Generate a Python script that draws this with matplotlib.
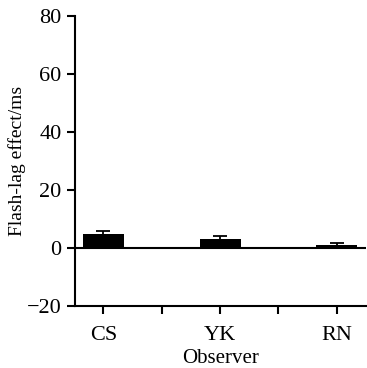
import matplotlib
matplotlib.use("Agg")
import matplotlib.pyplot as plt
from matplotlib.ticker import MultipleLocator

# data
observers = ["CS", "YK", "RN"]
effect = [4.9, 3.0, 1.0]
err = [1.0, 1.0, 0.9]

plt.rcParams['font.family'] = ['Liberation Serif', 'DejaVu Serif']
plt.rcParams['font.size'] = 15

fig = plt.figure(figsize=(3.67, 3.68), dpi=100)
ax = fig.add_axes([0.204, 0.168, 0.793, 0.789])

x = list(range(len(observers)))
ax.bar(x, effect, width=0.35, color='black', zorder=2)
ax.errorbar(x, effect, yerr=err, fmt='none', ecolor='black',
            elinewidth=1.3, capsize=5, capthick=1.3, zorder=3)
ax.axhline(0, color='black', lw=1.5, zorder=1)

ax.set_xlim(-0.245, 2.25)
ax.set_ylim(-20, 80)
ax.set_xticks(x)
ax.set_xticklabels(observers)
ax.xaxis.set_minor_locator(MultipleLocator(0.5))
ax.set_yticks([-20, 0, 20, 40, 60, 80])

for s in ['top', 'right']:
    ax.spines[s].set_visible(False)
for s in ['left', 'bottom']:
    ax.spines[s].set_linewidth(1.5)
ax.tick_params(axis='both', which='both', direction='out', length=6, width=1.5,
               labelsize=16)
ax.tick_params(axis='x', which='major', pad=8)

ax.set_xlabel('Observer', labelpad=3)
ax.set_ylabel('Flash-lag effect/ms', labelpad=1, fontsize=14)

plt.savefig('out.png', dpi=100)
